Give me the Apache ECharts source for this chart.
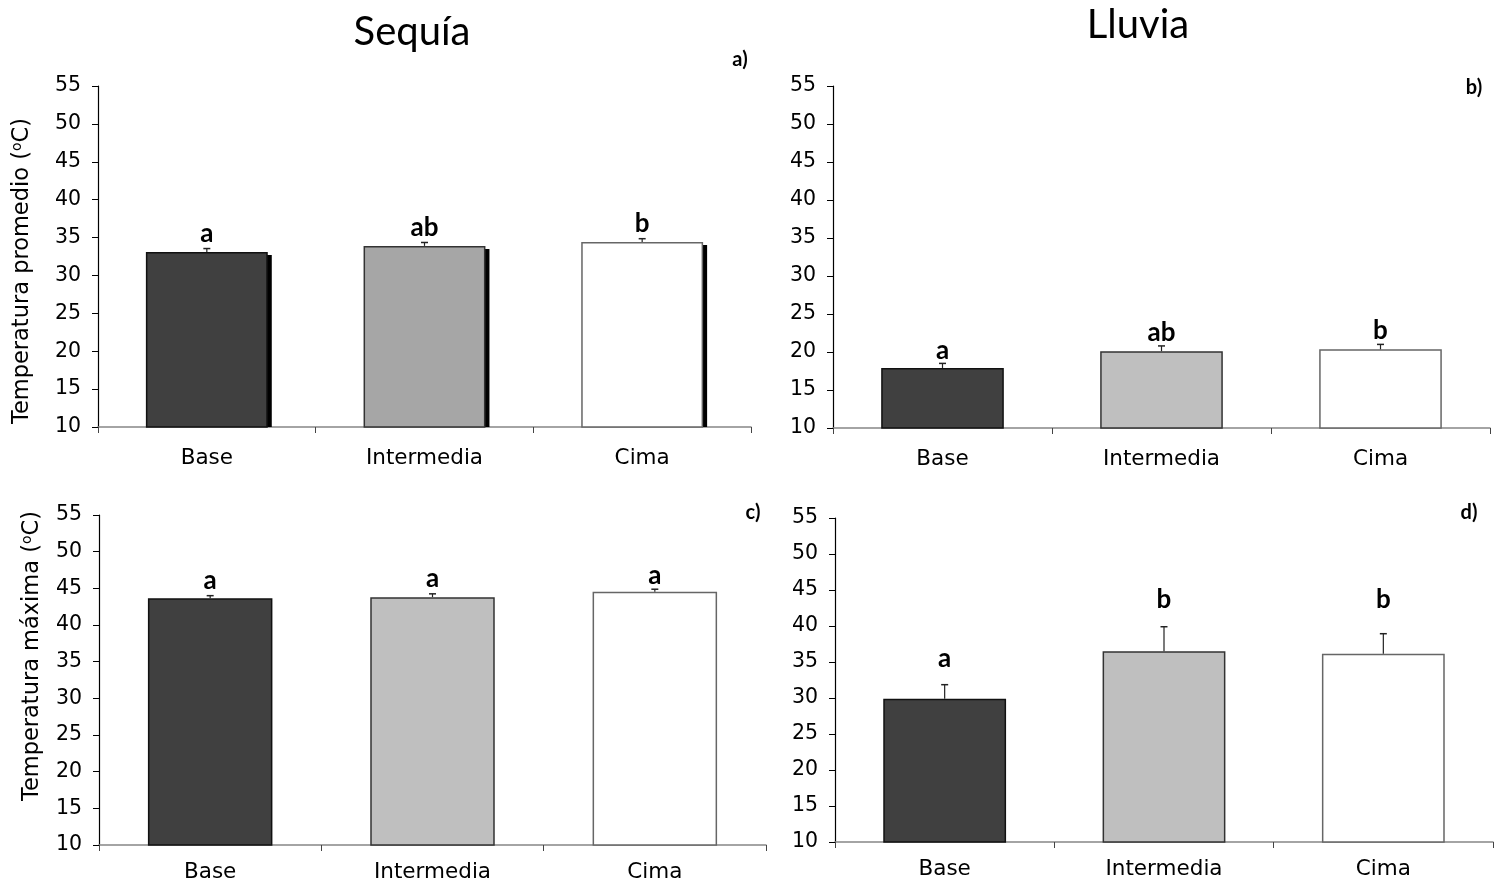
<!DOCTYPE html>
<html>
<head>
<meta charset="utf-8">
<script src="https://cdn.jsdelivr.net/npm/echarts@6/dist/echarts.min.js"></script>
<style>
html,body{margin:0;padding:0;background:#fff;}
#chart{width:1495px;height:883px;}
</style>
</head>
<body>
<div id="chart"></div>
<script>
// ---- data ----
const categories = ['Base', 'Intermedia', 'Cima'];
const yMin = 10, yMax = 55, yStep = 5;

// a) Sequía - temperatura promedio
const meanA = [33.1, 33.9, 34.4];
const errA = [0.45, 0.45, 0.45];
const lettersA = ['a', 'ab', 'b'];
const letterPosA = [35.5, 36.3, 36.8];

// b) Lluvia - temperatura promedio
const meanB = [17.9, 20.1, 20.35];
const errB = [0.6, 0.7, 0.65];
const lettersB = ['a', 'ab', 'b'];
const letterPosB = [20.2, 22.6, 22.8];

// c) Sequía - temperatura máxima
const meanC = [43.65, 43.8, 44.55];
const errC = [0.35, 0.45, 0.33];
const lettersC = ['a', 'a', 'a'];
const letterPosC = [46.1, 46.3, 46.8];

// d) Lluvia - temperatura máxima
const meanD = [29.9, 36.5, 36.15];
const errD = [1.95, 3.4, 2.78];
const lettersD = ['a', 'b', 'b'];
const letterPosD = [35.5, 43.6, 43.6];

const titles = ['Sequía', 'Lluvia'];
const panelTags = ['a)', 'b)', 'c)', 'd)'];
const yNames = ['Temperatura promedio (', 'Temperatura máxima ('];

// ---- layout ----
const grids = [
  {left: 98, top: 86, width: 653, height: 341},
  {left: 833, top: 86, width: 657, height: 342},
  {left: 99, top: 515, width: 667, height: 330},
  {left: 835, top: 518, width: 658, height: 324}
];
const BAR_FRAC = 0.56;
const panels = [
  {mean: meanA, err: errA, letters: lettersA, pos: letterPosA, mid: '#a6a6a6', shadow: true, labelMargin: 20},
  {mean: meanB, err: errB, letters: lettersB, pos: letterPosB, mid: '#bfbfbf', shadow: false, labelMargin: 20},
  {mean: meanC, err: errC, letters: lettersC, pos: letterPosC, mid: '#bfbfbf', shadow: false, labelMargin: 16},
  {mean: meanD, err: errD, letters: lettersD, pos: letterPosD, mid: '#bfbfbf', shadow: false, labelMargin: 16}
];

const fontTick = 'DejaVu Sans';
const xAxes = [], yAxes = [], series = [];
panels.forEach((p, k) => {
  xAxes.push({
    type: 'category', gridIndex: k, data: categories,
    axisLine: {lineStyle: {color: '#868686', width: 1.5}},
    axisTick: {show: true, length: 6, lineStyle: {color: '#444'}},
    axisLabel: {color: '#000', fontSize: 21.5, fontFamily: fontTick, margin: p.labelMargin}
  });
  yAxes.push({
    type: 'value', gridIndex: k, min: yMin, max: yMax, interval: yStep,
    splitLine: {show: false},
    axisLine: {show: true, lineStyle: {color: '#000', width: 1.2}},
    axisTick: {show: true, length: 6, lineStyle: {color: '#000'}},
    axisLabel: {color: '#000', fontSize: 20.5, fontFamily: fontTick, margin: 17}
  });
  const fills = ['#404040', p.mid, '#ffffff'];
  const borders = ['#111', '#333', '#666'];
  if (p.shadow) {
    series.push({
      type: 'custom', xAxisIndex: k, yAxisIndex: k, animation: false, silent: true, z: 1,
      data: p.mean.map((v, i) => [i, v]),
      encode: {x: 0, y: 1},
      renderItem: function (params, api) {
        const t = api.coord([api.value(0), api.value(1)]);
        const b = api.coord([api.value(0), yMin]);
        const w = api.size([1, 0])[0] * BAR_FRAC;
        return {type: 'rect', shape: {x: t[0] + w / 2 - 1, y: t[1] + 3, width: 5, height: b[1] - t[1] - 3},
          style: {fill: '#000'}};
      }
    });
  }
  series.push({
    type: 'bar', xAxisIndex: k, yAxisIndex: k, barWidth: (BAR_FRAC * 100) + '%',
    data: p.mean.map((v, i) => ({
      value: v,
      itemStyle: {color: fills[i], borderColor: borders[i], borderWidth: 1.5}
    })),
    silent: true, animation: false, z: 2
  });
  series.push({
    type: 'custom', xAxisIndex: k, yAxisIndex: k, animation: false, silent: true, z: 3,
    data: p.mean.map((v, i) => [i, v, p.err[i]]),
    encode: {x: 0, y: 1},
    renderItem: function (params, api) {
      const x = api.value(0), m = api.value(1), e = api.value(2);
      const b = api.coord([x, m]);
      const t = api.coord([x, m + e]);
      return {
        type: 'group', children: [
          {type: 'line', shape: {x1: b[0], y1: b[1], x2: t[0], y2: t[1]}, style: {stroke: '#222', lineWidth: 1.2}},
          {type: 'line', shape: {x1: t[0] - 3.5, y1: t[1], x2: t[0] + 3.5, y2: t[1]}, style: {stroke: '#222', lineWidth: 1.5}}
        ]
      };
    }
  });
  series.push({
    type: 'custom', xAxisIndex: k, yAxisIndex: k, animation: false, silent: true, z: 4,
    data: p.pos.map((v, i) => [i, v]),
    encode: {x: 0, y: 1},
    renderItem: function (params, api) {
      const c = api.coord([api.value(0), api.value(1)]);
      return {
        type: 'text', x: c[0], y: c[1],
        style: {text: p.letters[params.dataIndex], fill: '#000', font: 'bold 26px Lato', textAlign: 'center', textVerticalAlign: 'middle'}
      };
    }
  });
});

const richName = {
  n: {fontSize: 22.5, fontFamily: fontTick, fill: '#000', verticalAlign: 'bottom'},
  s: {fontSize: 14, fontFamily: fontTick, fill: '#000', verticalAlign: 'top'}
};
const graphic = [
  {type: 'text', x: 412, y: 32, style: {text: titles[0], font: '40px Lato', fill: '#000', textAlign: 'center', textVerticalAlign: 'middle'}},
  {type: 'text', x: 1138, y: 25, style: {text: titles[1], font: '40px Lato', fill: '#000', textAlign: 'center', textVerticalAlign: 'middle'}},
  {type: 'text', x: 740, y: 60, style: {text: panelTags[0], font: 'bold 20px Lato', fill: '#000', textAlign: 'center', textVerticalAlign: 'middle'}},
  {type: 'text', x: 1474, y: 88, style: {text: panelTags[1], font: 'bold 20px Lato', fill: '#000', textAlign: 'center', textVerticalAlign: 'middle'}},
  {type: 'text', x: 753, y: 513, style: {text: panelTags[2], font: 'bold 20px Lato', fill: '#000', textAlign: 'center', textVerticalAlign: 'middle'}},
  {type: 'text', x: 1469, y: 513, style: {text: panelTags[3], font: 'bold 20px Lato', fill: '#000', textAlign: 'center', textVerticalAlign: 'middle'}},
  {type: 'text', x: 22, y: 271, rotation: Math.PI / 2,
    style: {text: '{n|' + yNames[0] + '}{s|o}{n|C)}', textAlign: 'center', textVerticalAlign: 'middle', rich: richName}},
  {type: 'text', x: 32, y: 656, rotation: Math.PI / 2,
    style: {text: '{n|' + yNames[1] + '}{s|o}{n|C)}', textAlign: 'center', textVerticalAlign: 'middle', rich: richName}}
];

const chart = echarts.init(document.getElementById('chart'), null, {renderer: 'canvas'});
chart.setOption({
  backgroundColor: '#fff',
  animation: false,
  grid: grids,
  xAxis: xAxes,
  yAxis: yAxes,
  series: series,
  graphic: graphic
});
</script>
</body>
</html>
